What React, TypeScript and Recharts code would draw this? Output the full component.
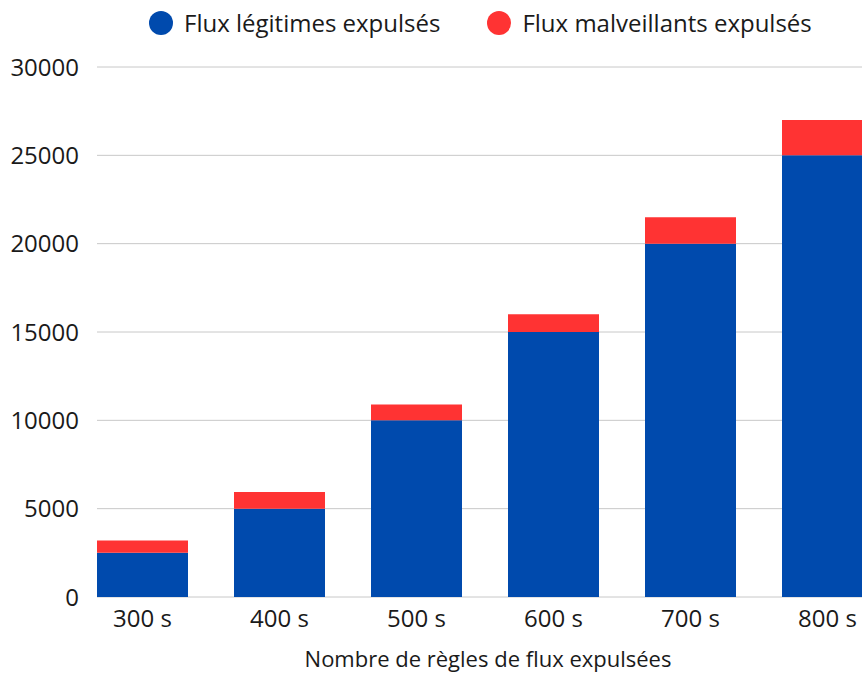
import { BarChart, Bar, XAxis, YAxis, CartesianGrid, Label } from "recharts";

const categories = ["300 s", "400 s", "500 s", "600 s", "700 s", "800 s"];
const fluxLegitimes = [2500, 5000, 10000, 15000, 20000, 25000];
const fluxMalveillants = [700, 950, 900, 1000, 1500, 2000];
const yTicks = [0, 5000, 10000, 15000, 20000, 25000, 30000];

const series = [
  { key: "legitimes", name: "Flux légitimes expulsés", color: "#004AAD" },
  { key: "malveillants", name: "Flux malveillants expulsés", color: "#FF3333" },
];

const data = categories.map((name, i) => ({
  name,
  legitimes: fluxLegitimes[i],
  malveillants: fluxMalveillants[i],
}));

const FONT = "'Open Sans', 'Noto Sans', sans-serif";
const TEXT = "#1a1a1a";

export default function App() {
  return (
    <div
      style={{
        position: "absolute",
        left: 0,
        top: 0,
        width: 862,
        height: 673,
        overflow: "hidden",
        background: "#fff",
        fontFamily: FONT,
      }}
    >
      {/* légende en haut */}
      <div
        style={{
          position: "absolute",
          left: 149,
          top: 11,
          display: "flex",
          alignItems: "center",
          gap: 47,
          fontSize: 24,
          lineHeight: "24px",
          color: TEXT,
          whiteSpace: "nowrap",
        }}
      >
        {series.map((s) => (
          <div key={s.key} style={{ display: "flex", alignItems: "center" }}>
            <span
              style={{
                width: 24,
                height: 24,
                borderRadius: "50%",
                background: s.color,
                marginRight: 11,
                display: "inline-block",
              }}
            />
            <span>{s.name}</span>
          </div>
        ))}
      </div>

      <BarChart
        width={906}
        height={673}
        data={data}
        margin={{ top: 67, right: 10, bottom: 0, left: 0 }}
        barCategoryGap={23}
        style={{ fontFamily: FONT }}
      >
        <CartesianGrid vertical={false} stroke="#c8c8c8" x={97} width={799} />
        <XAxis
          dataKey="name"
          height={76}
          tickLine={false}
          axisLine={false}
          tickSize={0}
          tickMargin={13}
          tick={{ fill: TEXT, fontSize: 24 }}
        >
          <Label
            value="Nombre de règles de flux expulsées"
            position="insideBottom"
            offset={6}
            dx={3}
            style={{ fill: TEXT, fontSize: 22 }}
          />
        </XAxis>
        <YAxis
          width={74}
          domain={[0, 30000]}
          ticks={yTicks}
          tickLine={false}
          axisLine={false}
          tickSize={0}
          tickMargin={-5}
          tick={{ fill: TEXT, fontSize: 24 }}
        />
        {series.map((s) => (
          <Bar
            key={s.key}
            dataKey={s.key}
            name={s.name}
            stackId="flux"
            fill={s.color}
            isAnimationActive={false}
          />
        ))}
      </BarChart>
    </div>
  );
}
